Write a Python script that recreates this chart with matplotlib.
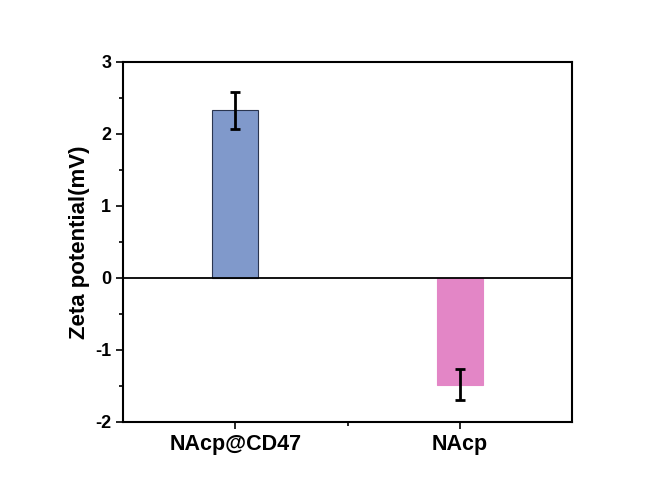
import matplotlib
matplotlib.use("Agg")
import matplotlib.pyplot as plt
from matplotlib.ticker import MultipleLocator

categories = ["NAcp@CD47", "NAcp"]
values = [2.33, -1.48]
errors = [0.26, 0.22]
colors = ["#8099cb", "#e386c6"]
edgecolors = ["#2a3550", "#e386c6"]

plt.rcParams['font.family'] = ['Liberation Sans', 'DejaVu Sans']
plt.rcParams['font.weight'] = 'bold'
plt.rcParams['axes.unicode_minus'] = False

fig = plt.figure(figsize=(6.45, 4.99), dpi=100)
ax = fig.add_axes([123/645, 1-422/499, (572-123)/645, (422-62)/499])

x = [1, 2]
ax.bar(x, values, width=0.205, color=colors, edgecolor=edgecolors, linewidth=0.8, zorder=2)
ax.errorbar(x, values, yerr=errors, fmt='none', ecolor='black', elinewidth=2, capsize=3.5, capthick=2, zorder=3)
ax.axhline(0, color='black', linewidth=1.3, zorder=4)

ax.set_xlim(0.5, 2.5)
ax.set_ylim(-2, 3)
ax.set_xticks(x)
ax.set_xticklabels(categories, fontsize=15.5, fontweight='bold')
ax.set_xticks([1.5], minor=True)
ax.yaxis.set_major_locator(MultipleLocator(1))
ax.yaxis.set_minor_locator(MultipleLocator(0.5))
for lbl in ax.get_yticklabels():
    lbl.set_fontweight('bold')
ax.tick_params(axis='y', labelsize=13)
ax.tick_params(which='major', direction='out', length=5, width=1.2)
ax.tick_params(which='minor', direction='out', length=3, width=1.2)
ax.tick_params(top=False, right=False)
for s in ax.spines.values():
    s.set_linewidth(1.5)
ax.set_ylabel("Zeta potential(mV)", fontsize=16, fontweight='bold', labelpad=4)

fig.savefig("out.png", dpi=100)
